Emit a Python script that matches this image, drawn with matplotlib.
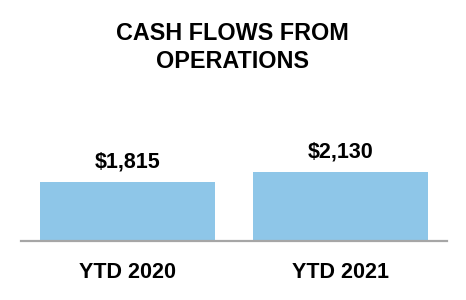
import matplotlib.pyplot as plt

categories = ['YTD 2020', 'YTD 2021']
values = [1815, 2130]
labels = ['$1,815', '$2,130']

plt.rcParams['font.family'] = ['Liberation Sans', 'DejaVu Sans']

fig = plt.figure(figsize=(4.66, 3.0), dpi=100)
ax = fig.add_axes([0.0444, 0.1977, 0.9142, 0.4])

x = range(len(categories))
ax.bar(x, values, width=0.82, color='#8EC6E8', zorder=2)
ax.set_xlim(-0.5, 1.5)
ax.set_ylim(0, 120 / (58.7 / 1815))

for i, v in enumerate(values):
    ax.annotate(labels[i], (i, v), xytext=(0, 14.6), textcoords='offset points',
                ha='center', va='center', fontsize=15.5, fontweight='bold')

for s in ['top', 'right', 'left']:
    ax.spines[s].set_visible(False)
ax.spines['bottom'].set_color('#A6A6A6')
ax.spines['bottom'].set_linewidth(1.6)
ax.set_yticks([])
ax.set_xticks(list(x))
ax.set_xticklabels(categories, fontsize=15.5, fontweight='bold')
ax.tick_params(axis='x', length=0, pad=15.2)

fig.text(0.499, 0.926, 'CASH FLOWS FROM\nOPERATIONS', ha='center', va='top',
         fontsize=16.8, fontweight='bold', linespacing=1.27)

fig.savefig('out.png', dpi=100)
